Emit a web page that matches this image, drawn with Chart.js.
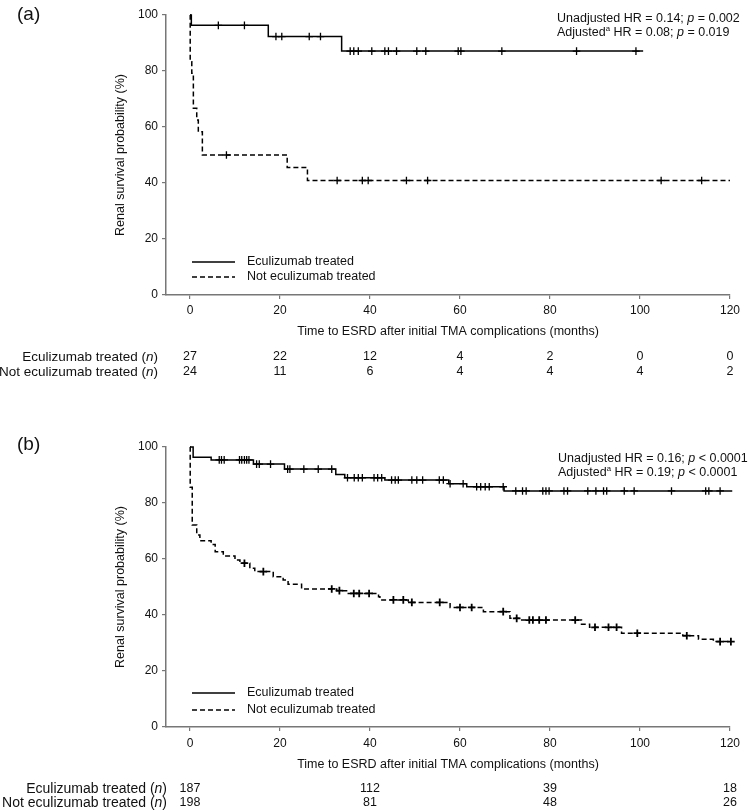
<!DOCTYPE html>
<html><head><meta charset="utf-8">
<script src="https://cdn.jsdelivr.net/npm/chart.js@4.4.1/dist/chart.umd.min.js"></script>
<style>
html,body{margin:0;padding:0;background:#fff;}
#wrap{position:relative;width:749px;height:812px;overflow:hidden;background:#fff;}
canvas{position:absolute;left:0;}
</style></head><body>
<div id="wrap">
<canvas id="ca" width="749" height="390" style="top:0;width:749px;height:390px"></canvas>
<canvas id="cb" width="749" height="422" style="top:390px;width:749px;height:422px"></canvas>
</div>
<script>
// ---------- data ----------
const xTicks = [0, 20, 40, 60, 80, 100, 120];
const yTicks = [0, 20, 40, 60, 80, 100];
const seriesNames = ['Eculizumab treated', 'Not eculizumab treated'];
const rowNames = ['Eculizumab treated (', 'Not eculizumab treated ('];

// Panel (a)
const aEcuTime = [0, 0.3, 17.4, 33.7, 100.7];
const aEcuSurv = [100, 96.3, 92.3, 87.1, 87.1];
const aEcuCens = [6.3, 12.1, 19.1, 20.4, 26.5, 29.0, 35.6, 36.4, 37.4, 40.4, 43.3, 44.1, 45.9, 50.4, 52.4, 59.6, 60.2, 69.3, 85.9, 99.1];
const aNotTime = [0, 0.05, 0.4, 0.75, 1.5, 1.85, 2.75, 21.6, 26.1, 120];
const aNotSurv = [100, 83.3, 79.2, 66.7, 62.5, 58.3, 50.0, 45.5, 40.9, 40.9];
const aNotCens = [8.1, 32.7, 38.3, 39.6, 48.1, 52.8, 104.7, 113.7];
const aRiskTimes = [0, 20, 40, 60, 80, 100, 120];
const aRiskEcu = [27, 22, 12, 4, 2, 0, 0];
const aRiskNot = [24, 11, 6, 4, 4, 4, 2];
const aHR = ['0.14', '0.08'];
const aP = ['= 0.002', '= 0.019'];

// Panel (b)
const bEcuTime = [0, 0.7, 4.7, 14.1, 21.0, 32.4, 34.4, 43.3, 57.5, 61.5, 69.8, 120.5];
const bEcuSurv = [100, 96.3, 95.4, 93.9, 92.1, 90.2, 89.0, 88.2, 86.9, 85.8, 84.3, 84.3];
const bEcuCens = [6.5, 7.0, 7.6, 11.0, 11.5, 12.1, 12.6, 13.1, 14.8, 15.4, 17.9, 21.7, 22.2, 25.3, 28.5, 31.5, 35.0, 36.5, 37.4, 38.3, 40.9, 41.7, 42.6, 44.8, 45.6, 46.3, 49.3, 50.4, 51.7, 55.4, 56.3, 57.8, 60.7, 63.7, 64.6, 65.6, 66.5, 69.6, 72.4, 73.9, 74.7, 78.4, 79.1, 79.8, 83.1, 83.9, 88.4, 90.2, 91.9, 92.6, 96.5, 98.7, 107.0, 114.6, 115.3, 117.8];
const bNotTime = [0, 0.05, 0.5, 1.5, 2.2, 4.7, 5.6, 7.4, 10.0, 11.1, 13.3, 14.4, 18.5, 20.7, 21.8, 24.8, 32.6, 34.8, 41.9, 42.2, 48.5, 57.8, 65.2, 71.1, 73.5, 87.0, 88.8, 95.9, 109.5, 113.0, 116.3, 120.2];
const bNotSurv = [100, 85.6, 72.1, 68.6, 66.5, 65.2, 62.6, 61.1, 59.6, 58.5, 56.7, 55.5, 53.7, 52.5, 51.0, 49.3, 48.7, 47.7, 46.5, 45.4, 44.5, 42.7, 41.2, 38.8, 38.2, 36.7, 35.6, 33.5, 32.6, 31.3, 30.5, 30.5];
const bNotCens = [12.1, 16.3, 31.5, 33.2, 36.4, 37.6, 39.8, 45.2, 47.4, 49.3, 55.5, 60.0, 62.6, 69.6, 72.6, 75.4, 76.2, 77.6, 79.1, 85.6, 90.0, 93.0, 94.8, 99.4, 110.4, 117.8, 120.2];
const bRiskTimes = [0, 40, 80, 120];
const bRiskEcu = [187, 112, 39, 18];
const bRiskNot = [198, 81, 48, 26];
const bHR = ['0.16', '0.19'];
const bP = ['< 0.0001', '< 0.0001'];

// ---------- helpers ----------
const FF = '"Liberation Sans", Arial, Helvetica, sans-serif';
const INK = '#111';
function pts(t, s) { return t.map((v, i) => ({x: v, y: s[i]})); }
function levelAt(t, times, surv) { let s = surv[0]; for (let i = 0; i < times.length; i++) { if (times[i] <= t) s = surv[i]; } return s; }
function censPts(c, times, surv) { return c.map(t => ({x: t, y: levelAt(t, times, surv)})); }
function fontStr(r, size) { const s = r.sup ? size * 0.62 : size; return (r.i ? 'italic ' : '') + s + 'px ' + FF; }
function runsWidth(ctx, runs, size) { let w = 0; for (const r of runs) { ctx.font = fontStr(r, size); w += ctx.measureText(r.t).width; } return w; }
function drawRuns(ctx, x, y, runs, size, align) {
  const w = runsWidth(ctx, runs, size);
  let cx = align === 'right' ? x - w : (align === 'center' ? x - w / 2 : x);
  ctx.textAlign = 'left'; ctx.textBaseline = 'middle'; ctx.fillStyle = INK;
  for (const r of runs) {
    ctx.font = fontStr(r, size);
    ctx.fillText(r.t, cx, r.sup ? y - size * 0.3 : y);
    cx += ctx.measureText(r.t).width;
  }
}

const overlay = {
  id: 'overlay',
  afterDraw(chart) {
    const L = chart.options.plugins.overlay;
    const ctx = chart.ctx;
    const xs = chart.scales.x;
    ctx.save();
    // panel label
    ctx.fillStyle = INK; ctx.font = '19px ' + FF; ctx.textAlign = 'left'; ctx.textBaseline = 'middle';
    ctx.fillText(L.panel, 17, L.panelY);
    // legend
    const ds = chart.data.datasets;
    [0, 1].forEach(i => {
      const y = L.legY[i];
      ctx.beginPath(); ctx.strokeStyle = '#000'; ctx.lineWidth = 1.5;
      ctx.setLineDash(ds[i].borderDash || []);
      ctx.moveTo(192, y); ctx.lineTo(235, y); ctx.stroke();
      ctx.setLineDash([]);
      drawRuns(ctx, 247, y, [{t: ds[i].label}], 12.5, 'left');
    });
    // annotation
    const labs = ['Unadjusted', 'Adjusted'];
    [0, 1].forEach(i => {
      const runs = [{t: labs[i]}];
      if (i === 1) runs.push({t: 'a', sup: true});
      runs.push({t: ' HR = ' + L.hr[i] + '; '}, {t: 'p', i: true}, {t: ' ' + L.p[i]});
      drawRuns(ctx, L.annX, L.annY[i], runs, 12.5, 'left');
    });
    // at-risk table
    [0, 1].forEach(r => {
      const y = L.rowY[r];
      drawRuns(ctx, L.rowX, y, [{t: rowNames[r]}, {t: 'n', i: true}, {t: ')'}], L.rowSize, 'right');
      const vals = r === 0 ? L.riskEcu : L.riskNot;
      L.riskT.forEach((t, k) => {
        drawRuns(ctx, xs.getPixelForValue(t), y, [{t: String(vals[k])}], 12.5, 'center');
      });
    });
    ctx.restore();
  }
};

function buildChart(id, d, L) {
  return new Chart(document.getElementById(id), {
    type: 'line',
    data: {
      datasets: [
        {label: seriesNames[0], data: pts(d.ecuT, d.ecuS), stepped: 'before', borderColor: '#000', borderWidth: 1.5, pointRadius: 0, fill: false, clip: false},
        {label: seriesNames[1], data: pts(d.notT, d.notS), stepped: 'before', borderColor: '#000', borderWidth: 1.5, borderDash: [5, 3], pointRadius: 0, fill: false, clip: false},
        {type: 'scatter', label: 'c1', data: censPts(d.ecuC, d.ecuT, d.ecuS), pointStyle: 'cross', pointRadius: 3.8, borderColor: '#000', backgroundColor: '#000', borderWidth: 1.3, showLine: false, clip: false},
        {type: 'scatter', label: 'c2', data: censPts(d.notC, d.notT, d.notS), pointStyle: 'cross', pointRadius: 3.8, borderColor: '#000', backgroundColor: '#000', borderWidth: L.notCrossW, showLine: false, clip: false}
      ]
    },
    options: {
      responsive: false, animation: false, devicePixelRatio: 1,
      layout: {padding: {left: 108, right: 19, top: L.top, bottom: 0}},
      plugins: {legend: {display: false}, tooltip: {enabled: false}, overlay: L},
      scales: {
        x: {
          type: 'linear', min: -5.33, max: 120,
          afterBuildTicks: s => { s.ticks = xTicks.map(v => ({value: v})); },
          afterFit: s => { s.height = L.xh; },
          grid: {drawOnChartArea: false, drawTicks: true, tickLength: 4, color: '#777', lineWidth: 1.2},
          border: {display: true, color: '#777', width: 1.5},
          ticks: {font: {family: FF, size: 12}, color: INK, padding: L.tickPad, maxRotation: 0, autoSkip: false},
          title: {display: true, text: 'Time to ESRD after initial TMA complications (months)', font: {family: FF, size: 12.5}, color: INK, padding: {top: 0, bottom: L.titlePad}}
        },
        y: {
          type: 'linear', min: 0, max: 100,
          afterBuildTicks: s => { s.ticks = yTicks.map(v => ({value: v})); },
          afterFit: s => { s.width = 58; },
          grid: {drawOnChartArea: false, drawTicks: true, tickLength: 4, color: '#777', lineWidth: 1.2},
          border: {display: true, color: '#777', width: 1.5},
          ticks: {font: {family: FF, size: 12}, color: INK, padding: 4},
          title: {display: true, text: 'Renal survival probability (%)', font: {family: FF, size: 12.5}, color: INK, padding: {top: 5.5, bottom: 0}}
        }
      }
    },
    plugins: [overlay]
  });
}

buildChart('ca',
  {ecuT: aEcuTime, ecuS: aEcuSurv, ecuC: aEcuCens, notT: aNotTime, notS: aNotSurv, notC: aNotCens},
  {panel: '(a)', panelY: 15, top: 15, xh: 95, tickPad: 4, titlePad: 50.5,
   legY: [262, 277], annX: 557, annY: [19, 33], hr: aHR, p: aP,
   rowX: 158, rowY: [357, 372], rowSize: 13.5, riskT: aRiskTimes, riskEcu: aRiskEcu, riskNot: aRiskNot, notCrossW: 1.3});

buildChart('cb',
  {ecuT: bEcuTime, ecuS: bEcuSurv, ecuC: bEcuCens, notT: bNotTime, notS: bNotSurv, notC: bNotCens},
  {panel: '(b)', panelY: 55, top: 57, xh: 85, tickPad: 5, titlePad: 39.5,
   legY: [303, 320], annX: 558, annY: [69, 83], hr: bHR, p: bP,
   rowX: 167, rowY: [399, 413], rowSize: 14, riskT: bRiskTimes, riskEcu: bRiskEcu, riskNot: bRiskNot, notCrossW: 1.8});
</script>
</body></html>
